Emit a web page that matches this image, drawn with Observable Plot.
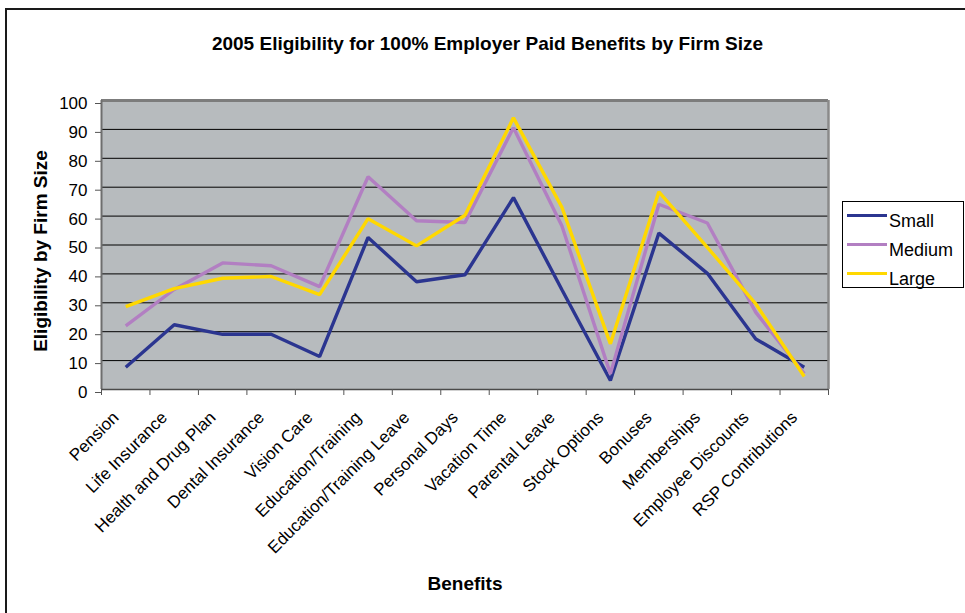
<!DOCTYPE html>
<html>
<head>
<meta charset="utf-8">
<script src="https://cdn.jsdelivr.net/npm/d3@7"></script>
<script src="https://cdn.jsdelivr.net/npm/@observablehq/plot@0.6"></script>
<style>
  html, body { margin: 0; padding: 0; background: #fff; }
  #chart { position: relative; width: 965px; height: 613px; overflow: hidden; font-family: "Liberation Sans", Arial, sans-serif; }
  #frame { position: absolute; left: 5px; top: 8px; width: 1000px; height: 700px; border: 2px solid #1a1a1a; box-sizing: border-box; }
  #title { position: absolute; left: 0; width: 975px; top: 33px; text-align: center; font-weight: bold; font-size: 19px; color: #000; }
  #plot { position: absolute; left: 0; top: 90px; }
  #legend { position: absolute; left: 842px; top: 201px; width: 122px; height: 87px; border: 1px solid #000; background: #fff; box-sizing: border-box; }
  .item { position: absolute; left: 0; height: 20px; font-size: 18px; color: #000; }
  .swatch { position: absolute; left: 4px; width: 40px; height: 3px; }
  .label { position: absolute; left: 46px; white-space: nowrap; }
</style>
</head>
<body>
<div id="chart">
  <div id="frame"></div>
  <div id="title">2005 Eligibility for 100% Employer Paid Benefits by Firm Size</div>
  <div id="plot"></div>
  <div id="legend"></div>
</div>
<script>
// Benefit categories along the x axis
const categories = [
  "Pension", "Life Insurance", "Health and Drug Plan", "Dental Insurance",
  "Vision Care", "Education/Training", "Education/Training Leave", "Personal Days",
  "Vacation Time", "Parental Leave", "Stock Options", "Bonuses",
  "Memberships", "Employee Discounts", "RSP Contributions"
];

// Percent of firms offering 100% employer-paid eligibility, by firm size
const small  = [7.7, 22.4, 19.1, 19.1, 11.4, 52.6, 37.3, 39.7, 66.4, 34.5, 3.1, 54.1, 40.2, 17.5, 7.7];
const medium = [22.0, 34.6, 43.8, 42.8, 35.6, 73.6, 58.4, 57.8, 90.6, 56.6, 5.4, 64.1, 57.6, 26.7, 5.5];
const large  = [28.7, 34.9, 38.5, 39.1, 32.8, 59.1, 49.7, 60.3, 94.0, 63.0, 15.8, 68.4, 49.2, 29.6, 4.5];

const seriesNames = ["Small", "Medium", "Large"];
const seriesColors = ["#2b3590", "#b27fc2", "#ffd800"];
const yTicks = d3.range(0, 101, 10);

const rows = [small, medium, large].flatMap((values, s) =>
  values.map((value, i) => ({series: seriesNames[s], index: i + 0.5, value}))
);

const chart = Plot.plot({
  width: 965,
  height: 523,
  marginLeft: 101,
  marginRight: 137,
  marginTop: 10,
  marginBottom: 224,
  style: {fontFamily: '"Liberation Sans", Arial, sans-serif', fontSize: "17px", color: "#000", background: "transparent", overflow: "visible"},
  x: {type: "linear", domain: [0, categories.length]},
  y: {domain: [0, 100]},
  color: {domain: seriesNames, range: seriesColors},
  marks: [
    Plot.frame({fill: "#b7bbbe", stroke: null}),
    Plot.gridY(d3.range(10, 100, 10), {stroke: "#000", strokeOpacity: 1, strokeWidth: 1}),
    Plot.ruleY([100], {stroke: "#7c7c7c", strokeWidth: 3}),
    Plot.ruleX([categories.length], {stroke: "#8a8a8a", strokeWidth: 2.5}),
    Plot.ruleX([0], {stroke: "#6e6e6e", strokeWidth: 2}),
    Plot.ruleY([0], {stroke: "#4a4a4a", strokeWidth: 1.5}),
    Plot.axisY({ticks: yTicks, tickSize: 6, tickPadding: 8, dy: 3, label: null, stroke: "#555"}),
    Plot.axisX({ticks: d3.range(0, categories.length + 1), tickSize: 6, tickFormat: () => "", label: null, stroke: "#555"}),
    Plot.text(categories, {
      x: (d, i) => i + 0.5,
      frameAnchor: "bottom",
      rotate: -45,
      textAnchor: "end",
      dx: -6,
      dy: 29,
      fontSize: 17
    }),
    Plot.text(["Eligibility by Firm Size"], {
      frameAnchor: "left", rotate: -90, textAnchor: "middle", dx: -61, dy: 6,
      fontWeight: "bold", fontSize: 19
    }),
    Plot.text(["Benefits"], {
      frameAnchor: "bottom", textAnchor: "middle", dy: 200,
      fontWeight: "bold", fontSize: 19
    }),
    Plot.line(rows, {x: "index", y: "value", z: "series", stroke: "series", strokeWidth: 3.4, strokeLinejoin: "miter", strokeLinecap: "butt"})
  ]
});
document.getElementById("plot").appendChild(chart);

// Legend: a line swatch and name for each firm size
const legend = document.getElementById("legend");
seriesNames.forEach((name, s) => {
  const item = document.createElement("div");
  item.className = "item";
  item.style.top = (3 + s * 29) + "px";
  item.style.width = "120px";
  item.innerHTML = `<div class="swatch" style="top:9px;background:${seriesColors[s]}"></div><div class="label" style="top:6px">${name}</div>`;
  legend.appendChild(item);
});
</script>
</body>
</html>
